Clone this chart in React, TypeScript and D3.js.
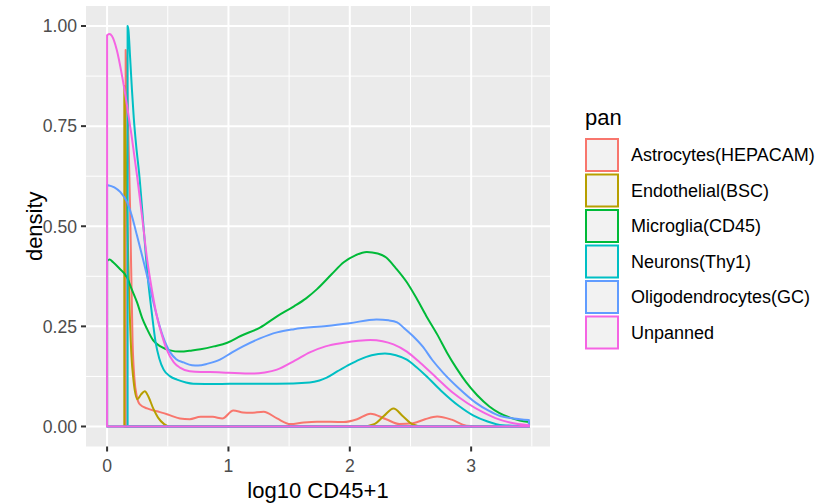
import { useEffect, useRef } from 'react'
import * as d3 from 'd3'

const W = 820
const H = 504

const groups = ['Astrocytes(HEPACAM)', 'Endothelial(BSC)', 'Microglia(CD45)', 'Neurons(Thy1)', 'Oligodendrocytes(GC)', 'Unpanned']
const colors = ['#F8766D', '#B79F00', '#00BA38', '#00BFC4', '#619CFF', '#F564E3']

// density curves: [x, density]
const astro: [number, number][] = [[0.153, 0.94], [0.17, 0.8], [0.19, 0.54], [0.21, 0.21], [0.225, 0.12], [0.245, 0.075], [0.27, 0.055], [0.33, 0.045], [0.41, 0.038], [0.5, 0.03], [0.6, 0.02], [0.68, 0.018], [0.77, 0.024], [0.87, 0.024], [0.95, 0.02], [1.04, 0.04], [1.12, 0.035], [1.18, 0.034], [1.29, 0.037], [1.4, 0.02], [1.51, 0.006], [1.62, 0.01], [1.73, 0.012], [1.95, 0.011], [2.06, 0.018], [2.17, 0.032], [2.3, 0.018], [2.41, 0.006], [2.52, 0.008], [2.62, 0.018], [2.72, 0.025], [2.84, 0.017], [2.96, 0.002], [3.1, 0], [3.476, 0]]
const endo: [number, number][] = [[0.142, 0.85], [0.16, 0.6], [0.18, 0.35], [0.2, 0.18], [0.217, 0.117], [0.25, 0.068], [0.28, 0.08], [0.31, 0.088], [0.34, 0.075], [0.38, 0.045], [0.42, 0.022], [0.47, 0.006], [0.52, 0], [2.1, 0], [2.2, 0.006], [2.28, 0.026], [2.36, 0.045], [2.44, 0.025], [2.52, 0.005], [2.6, 0], [3.476, 0]]
const micro: [number, number][] = [[0, 0.413], [0.02, 0.417], [0.05, 0.41], [0.1, 0.395], [0.165, 0.372], [0.2, 0.345], [0.247, 0.31], [0.29, 0.27], [0.33, 0.243], [0.38, 0.215], [0.44, 0.2], [0.52, 0.19], [0.6, 0.187], [0.7, 0.19], [0.77, 0.193], [0.88, 0.2], [0.99, 0.209], [1.1, 0.226], [1.26, 0.247], [1.4, 0.275], [1.54, 0.3], [1.64, 0.32], [1.73, 0.343], [1.85, 0.38], [1.95, 0.41], [2.05, 0.428], [2.14, 0.436], [2.23, 0.432], [2.3, 0.422], [2.38, 0.395], [2.47, 0.36], [2.55, 0.32], [2.63, 0.276], [2.72, 0.23], [2.8, 0.185], [2.88, 0.145], [2.96, 0.11], [3.05, 0.078], [3.15, 0.05], [3.23, 0.034], [3.32, 0.022], [3.4, 0.015], [3.476, 0.011]]
const neuro: [number, number][] = [[0.169, 1.0], [0.176, 0.99], [0.19, 0.92], [0.205, 0.84], [0.22, 0.77], [0.24, 0.7], [0.266, 0.626], [0.3, 0.5], [0.334, 0.376], [0.37, 0.28], [0.4, 0.21], [0.43, 0.17], [0.466, 0.142], [0.52, 0.125], [0.576, 0.117], [0.65, 0.11], [0.71, 0.107], [0.9, 0.106], [1.12, 0.107], [1.4, 0.107], [1.67, 0.11], [1.75, 0.115], [1.81, 0.122], [1.9, 0.138], [2.0, 0.155], [2.08, 0.167], [2.18, 0.178], [2.29, 0.182], [2.38, 0.178], [2.47, 0.167], [2.55, 0.148], [2.63, 0.126], [2.75, 0.09], [2.9, 0.051], [3.02, 0.027], [3.13, 0.013], [3.26, 0.003], [3.476, 0.001]]
const oligo: [number, number][] = [[0, 0.603], [0.06, 0.597], [0.11, 0.585], [0.165, 0.56], [0.2, 0.53], [0.247, 0.476], [0.29, 0.425], [0.33, 0.376], [0.37, 0.325], [0.41, 0.276], [0.46, 0.225], [0.52, 0.185], [0.57, 0.168], [0.63, 0.16], [0.7, 0.153], [0.75, 0.152], [0.83, 0.157], [0.93, 0.167], [1.03, 0.185], [1.12, 0.2], [1.26, 0.22], [1.4, 0.235], [1.54, 0.243], [1.81, 0.251], [2.0, 0.258], [2.22, 0.267], [2.32, 0.265], [2.39, 0.26], [2.45, 0.245], [2.52, 0.226], [2.6, 0.2], [2.68, 0.166], [2.77, 0.134], [2.9, 0.095], [3.04, 0.059], [3.14, 0.04], [3.24, 0.026], [3.35, 0.02], [3.476, 0.016]]
const unpanned: [number, number][] = [[0, 0.977], [0.02, 0.98], [0.04, 0.975], [0.08, 0.94], [0.123, 0.876], [0.165, 0.8], [0.2, 0.73], [0.247, 0.626], [0.29, 0.52], [0.33, 0.417], [0.37, 0.34], [0.41, 0.276], [0.45, 0.23], [0.49, 0.193], [0.55, 0.16], [0.6, 0.147], [0.68, 0.138], [0.77, 0.136], [0.85, 0.136], [1.0, 0.134], [1.2, 0.132], [1.3, 0.135], [1.4, 0.142], [1.55, 0.165], [1.67, 0.185], [1.8, 0.2], [1.95, 0.209], [2.07, 0.214], [2.17, 0.216], [2.27, 0.213], [2.36, 0.205], [2.47, 0.187], [2.58, 0.159], [2.72, 0.12], [2.85, 0.084], [2.97, 0.058], [3.1, 0.035], [3.2, 0.021], [3.32, 0.01], [3.476, 0.003]]

const series = [astro, endo, micro, neuro, oligo, unpanned]
const xTicks = [0, 1, 2, 3]
const yTicks = [0, 0.25, 0.5, 0.75, 1]

export default function App() {
  const svgRef = useRef<SVGSVGElement>(null)

  useEffect(() => {
    const svg = d3.select(svgRef.current)
    svg.selectAll('*').remove()

    const pl = 86, pr = 550, pt = 6, pb = 446.5
    const font = 'Liberation Sans, Arial, Helvetica, sans-serif'

    const xr = [0, 3.476], yr = [0, 1]
    const xe = (xr[1] - xr[0]) * 0.05, ye = (yr[1] - yr[0]) * 0.05
    const x = d3.scaleLinear().domain([xr[0] - xe, xr[1] + xe]).range([pl, pr])
    const y = d3.scaleLinear().domain([yr[0] - ye, yr[1] + ye]).range([pb, pt])

    svg.append('rect').attr('x', pl).attr('y', pt).attr('width', pr - pl).attr('height', pb - pt).attr('fill', '#EBEBEB')

    // grid — minor then major
    const xMinor = [0.5, 1.5, 2.5, 3.5]
    const yMinor = [0.125, 0.375, 0.625, 0.875]
    const grid = svg.append('g')
    xMinor.forEach(v => grid.append('line').attr('x1', x(v)).attr('x2', x(v)).attr('y1', pt).attr('y2', pb).attr('stroke', '#fff').attr('stroke-width', 1))
    yMinor.forEach(v => grid.append('line').attr('y1', y(v)).attr('y2', y(v)).attr('x1', pl).attr('x2', pr).attr('stroke', '#fff').attr('stroke-width', 1))
    xTicks.forEach(v => grid.append('line').attr('x1', x(v)).attr('x2', x(v)).attr('y1', pt).attr('y2', pb).attr('stroke', '#fff').attr('stroke-width', 2))
    yTicks.forEach(v => grid.append('line').attr('y1', y(v)).attr('y2', y(v)).attr('x1', pl).attr('x2', pr).attr('stroke', '#fff').attr('stroke-width', 2))

    // monotone keeps the near-zero stretches from dipping under the baseline
    const line = d3.line<[number, number]>().x(d => x(d[0])).y(d => y(d[1])).curve(d3.curveMonotoneX)

    series.forEach((pts, i) => {
      const x0 = pts[0][0], xn = pts[pts.length - 1][0]
      const top = line(pts) ?? ''
      const d = `M${x(x0)},${y(0)}L` + top.slice(1) + `L${x(xn)},${y(0)}Z`
      svg.append('path').attr('d', d).attr('fill', 'none').attr('stroke', colors[i])
        .attr('stroke-width', 2).attr('stroke-linejoin', 'round')
    })

    // axes
    const ax = svg.append('g')
    xTicks.forEach(v => {
      ax.append('line').attr('x1', x(v)).attr('x2', x(v)).attr('y1', pb).attr('y2', pb + 5).attr('stroke', '#333').attr('stroke-width', 2)
      ax.append('text').attr('x', x(v)).attr('y', pb + 25).attr('text-anchor', 'middle')
        .attr('font-family', font).attr('font-size', 17.6).attr('fill', '#4D4D4D').text(d3.format('d')(v))
    })
    yTicks.forEach(v => {
      ax.append('line').attr('x1', pl - 5).attr('x2', pl).attr('y1', y(v)).attr('y2', y(v)).attr('stroke', '#333').attr('stroke-width', 2)
      ax.append('text').attr('x', pl - 9).attr('y', y(v)).attr('dy', '0.36em').attr('text-anchor', 'end')
        .attr('font-family', font).attr('font-size', 17.6).attr('fill', '#4D4D4D').text(d3.format('.2f')(v))
    })
    ax.append('text').attr('x', (pl + pr) / 2).attr('y', 498).attr('text-anchor', 'middle')
      .attr('font-family', font).attr('font-size', 22).attr('fill', '#000').text('log10 CD45+1')
    ax.append('text').attr('transform', `translate(42,${(pt + pb) / 2}) rotate(-90)`).attr('text-anchor', 'middle')
      .attr('font-family', font).attr('font-size', 22).attr('fill', '#000').text('density')

    // legend
    const lg = svg.append('g').attr('transform', 'translate(585,0)')
    lg.append('text').attr('x', 0).attr('y', 125).attr('font-family', font).attr('font-size', 22).text('pan')
    groups.forEach((g, i) => {
      const ky = 138 + i * 35.5
      lg.append('rect').attr('x', 1).attr('y', ky + 1).attr('width', 32).attr('height', 32)
        .attr('fill', '#F2F2F2').attr('stroke', colors[i]).attr('stroke-width', 2)
      lg.append('text').attr('x', 46).attr('y', ky + 17).attr('dy', '0.36em')
        .attr('font-family', font).attr('font-size', 18).attr('fill', '#000').text(g)
    })
  }, [])

  return <svg ref={svgRef} width={W} height={H} style={{ position: 'absolute', left: 0, top: 0, background: '#fff' }} />
}
